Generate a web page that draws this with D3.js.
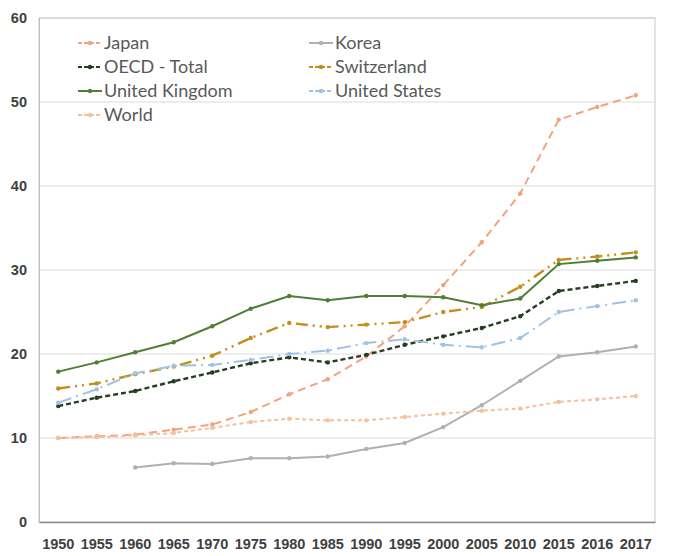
<!DOCTYPE html>
<html>
<head>
<meta charset="utf-8">
<script src="https://cdn.jsdelivr.net/npm/d3@7"></script>
<style>
  body { margin: 0; background: #fff; }
  svg { display: block; font-family: Lato, "Liberation Sans", sans-serif; }
</style>
</head>
<body>
<svg class="chart" width="674" height="556"></svg>
<script>
const years = ['1950', '1955', '1960', '1965', '1970', '1975', '1980', '1985', '1990', '1995', '2000', '2005', '2010', '2015', '2016', '2017'];
const yTicks = [0, 10, 20, 30, 40, 50, 60];

const japan = [10.0, 10.2, 10.4, 11.0, 11.6, 13.1, 15.2, 17.0, 19.7, 23.3, 28.2, 33.3, 39.1, 47.9, 49.4, 50.8];
const korea = [null, null, 6.5, 7.0, 6.9, 7.6, 7.6, 7.8, 8.7, 9.4, 11.3, 13.9, 16.8, 19.7, 20.2, 20.9];
const oecd = [13.8, 14.8, 15.6, 16.75, 17.8, 18.9, 19.6, 19.0, 19.9, 21.1, 22.1, 23.1, 24.5, 27.5, 28.1, 28.7];
const switzerland = [15.9, 16.5, 17.6, 18.5, 19.8, 21.9, 23.7, 23.2, 23.5, 23.8, 25.0, 25.6, 28.0, 31.2, 31.6, 32.1];
const uk = [17.9, 19.0, 20.2, 21.4, 23.3, 25.4, 26.9, 26.4, 26.9, 26.9, 26.75, 25.8, 26.6, 30.7, 31.1, 31.5];
const us = [14.2, 15.8, 17.7, 18.6, 18.7, 19.3, 20.0, 20.4, 21.3, 21.75, 21.1, 20.8, 21.9, 25.0, 25.7, 26.4];
const world = [10.0, 10.1, 10.3, 10.6, 11.2, 11.9, 12.3, 12.1, 12.1, 12.5, 12.9, 13.25, 13.5, 14.3, 14.6, 15.0];

const series = [
  { name: 'Japan', values: japan, color: '#f1a47c', dash: '8,5', width: 2 },
  { name: 'Korea', values: korea, color: '#b0b0b0', dash: null, width: 2 },
  { name: 'OECD - Total', values: oecd, color: '#263d22', dash: '5,3', width: 2.4 },
  { name: 'Switzerland', values: switzerland, color: '#c48d1c', dash: '12,5,2,5,2,5', width: 2.4 },
  { name: 'United Kingdom', values: uk, color: '#4f7f34', dash: null, width: 2 },
  { name: 'United States', values: us, color: '#9fc2e4', dash: '14,5,2,5', width: 2 },
  { name: 'World', values: world, color: '#f6c09e', dash: '4,3', width: 2 }
];

const margin = { top: 18, right: 19, bottom: 34, left: 39 };
const width = 674 - margin.left - margin.right;
const height = 556 - margin.top - margin.bottom;

const svg = d3.select('.chart');
const chart = svg.append('g')
  .attr('transform', 'translate(' + margin.left + ',' + margin.top + ')');

const x = d3.scaleBand().domain(years).range([0, width]);
const y = d3.scaleLinear().domain([0, 60]).range([height, 0]);

// gridlines
chart.append('g')
  .selectAll('line')
  .data(yTicks.filter(t => t > 0))
  .enter().append('line')
  .attr('x1', 0)
  .attr('x2', width)
  .attr('y1', d => y(d))
  .attr('y2', d => y(d))
  .attr('stroke', '#dcdcdc')
  .attr('stroke-width', 1);

// plot border
chart.append('rect')
  .attr('width', width)
  .attr('height', height)
  .attr('fill', 'none')
  .attr('stroke', '#c8c8c8');

// axes
const yAxis = chart.append('g').call(d3.axisLeft(y).tickValues(yTicks).tickSize(0).tickPadding(12));
yAxis.select('.domain').attr('stroke', '#bfbfbf');
yAxis.selectAll('text')
  .style('font-size', '14.5px')
  .style('font-weight', 'bold')
  .attr('fill', '#404040');

const xAxis = chart.append('g')
  .attr('transform', 'translate(0,' + height + ')')
  .call(d3.axisBottom(x).tickSize(0).tickPadding(17));
xAxis.select('.domain').attr('stroke', '#8c8c8c').attr('stroke-width', 1.5);
xAxis.selectAll('text')
  .style('font-size', '14.5px')
  .style('font-weight', 'bold')
  .attr('fill', '#404040');

const cx = d => x(d) + x.bandwidth() / 2;

const line = d3.line()
  .defined(d => d.v !== null)
  .x(d => cx(d.year))
  .y(d => y(d.v));

const groups = chart.selectAll('.series')
  .data(series)
  .enter().append('g')
  .attr('class', 'series');

groups.append('path')
  .attr('fill', 'none')
  .attr('stroke', d => d.color)
  .attr('stroke-width', d => d.width)
  .attr('stroke-dasharray', d => d.dash)
  .attr('d', d => line(years.map((yr, i) => ({ year: yr, v: d.values[i] }))));

groups.selectAll('circle')
  .data(d => years.map((yr, i) => ({ year: yr, v: d.values[i], color: d.color })).filter(p => p.v !== null))
  .enter().append('circle')
  .attr('cx', d => cx(d.year))
  .attr('cy', d => y(d.v))
  .attr('r', 2.2)
  .attr('fill', d => d.color);

// legend
const legend = svg.append('g');
const legendItems = legend.selectAll('g')
  .data(series)
  .enter().append('g')
  .attr('transform', (d, i) => 'translate(' + (i % 2 === 0 ? 78 : 309) + ',' + (43 + Math.floor(i / 2) * 24) + ')');

legendItems.append('line')
  .attr('x1', 0)
  .attr('x2', 24)
  .attr('stroke', d => d.color)
  .attr('stroke-width', 2)
  .attr('stroke-dasharray', d => d.dash ? '4,2' : null);

legendItems.append('circle')
  .attr('cx', 12)
  .attr('r', 2.2)
  .attr('fill', d => d.color);

legendItems.append('text')
  .attr('x', 26)
  .attr('dy', '0.35em')
  .style('font-size', '18px')
  .attr('fill', '#595959')
  .text(d => d.name);
</script>
</body>
</html>
